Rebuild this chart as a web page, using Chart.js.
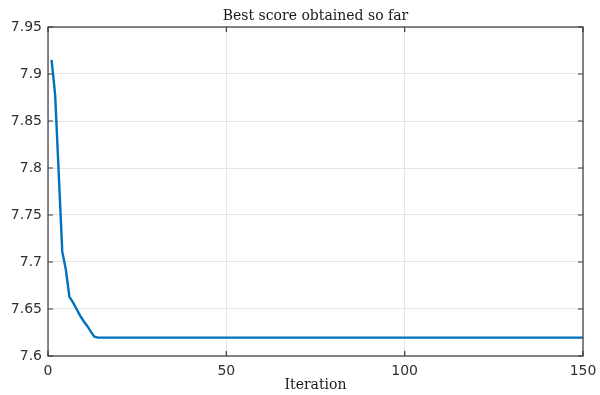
<!DOCTYPE html>
<html>
<head>
<meta charset="utf-8">
<style>
  html, body { margin: 0; padding: 0; background: #ffffff; }
  #wrap { width: 600px; height: 395px; position: relative; }
</style>
<script src="https://cdn.jsdelivr.net/npm/chart.js@4.4.1/dist/chart.umd.min.js"></script>
</head>
<body>
<div id="wrap"><canvas id="chart" width="600" height="395"></canvas></div>
<script>
// Best score per iteration of the optimiser
const iterations = [1, 2, 3, 4, 5, 6, 7, 8, 9, 10, 11, 12, 13, 14, 150];
const bestScore = [7.915, 7.878, 7.795, 7.711, 7.692, 7.663, 7.657, 7.650, 7.643, 7.637, 7.632, 7.626, 7.6205, 7.6196, 7.6196];

const xTicks = [0, 50, 100, 150];
const yTicks = [7.6, 7.65, 7.7, 7.75, 7.8, 7.85, 7.9, 7.95];

const titleText = 'Best score obtained so far';
const xLabelText = 'Iteration';

const points = iterations.map((it, i) => ({ x: it, y: bestScore[i] }));

const axisColor = '#3a3a3a';
const gridColor = '#e5e5e5';
const lineColor = '#0072BD';
const serif = '"DejaVu Serif", "Liberation Serif", serif';
const sans = '"DejaVu Sans", "Liberation Sans", sans-serif';

// Box around the plot area plus inward tick marks on all four sides
const boxAndTicks = {
  id: 'boxAndTicks',
  afterDraw(chart) {
    const { ctx, chartArea: a, scales } = chart;
    ctx.save();
    ctx.strokeStyle = axisColor;
    ctx.lineWidth = 1.2;
    ctx.strokeRect(a.left, a.top, a.right - a.left, a.bottom - a.top);
    const len = 5;
    ctx.beginPath();
    scales.x.ticks.forEach(t => {
      const px = scales.x.getPixelForValue(t.value);
      ctx.moveTo(px, a.bottom); ctx.lineTo(px, a.bottom - len);
      ctx.moveTo(px, a.top); ctx.lineTo(px, a.top + len);
    });
    scales.y.ticks.forEach(t => {
      const py = scales.y.getPixelForValue(t.value);
      ctx.moveTo(a.left, py); ctx.lineTo(a.left + len, py);
      ctx.moveTo(a.right, py); ctx.lineTo(a.right - len, py);
    });
    ctx.stroke();
    ctx.restore();
  }
};

new Chart(document.getElementById('chart'), {
  type: 'line',
  data: {
    datasets: [{
      data: points,
      borderColor: lineColor,
      borderWidth: 2.4,
      pointRadius: 0,
      tension: 0,
      fill: false
    }]
  },
  options: {
    responsive: false,
    animation: false,
    layout: { padding: { top: 0, right: 17, left: 0, bottom: 0 } },
    plugins: {
      legend: { display: false },
      tooltip: { enabled: false },
      title: {
        display: true,
        fullSize: false,
        text: titleText,
        color: '#1a1a1a',
        font: { family: serif, size: 14, weight: 'normal' },
        padding: { top: 8, bottom: 2.2 }
      }
    },
    scales: {
      x: {
        type: 'linear',
        min: xTicks[0],
        max: xTicks[xTicks.length - 1],
        afterBuildTicks: s => { s.ticks = xTicks.map(v => ({ value: v })); },
        afterFit: s => { s.height = 39; s.paddingLeft = 0; s.paddingRight = 0; },
        grid: { color: gridColor, drawTicks: false },
        border: { display: false },
        ticks: {
          color: '#303030',
          padding: 7,
          font: { family: sans, size: 14 },
          maxRotation: 0
        },
        title: {
          display: true,
          text: xLabelText,
          color: '#1a1a1a',
          font: { family: serif, size: 14 },
          padding: { top: 0, bottom: 1 }
        }
      },
      y: {
        type: 'linear',
        min: yTicks[0],
        max: yTicks[yTicks.length - 1],
        afterBuildTicks: s => { s.ticks = yTicks.map(v => ({ value: v })); },
        afterFit: s => { s.width = 48; s.paddingTop = 0; s.paddingBottom = 0; },
        grid: { color: gridColor, drawTicks: false },
        border: { display: false },
        ticks: {
          color: '#303030',
          padding: 6,
          font: { family: sans, size: 14 },
          callback: v => String(Number(v.toFixed(2)))
        }
      }
    }
  },
  plugins: [boxAndTicks]
});
</script>
</body>
</html>
